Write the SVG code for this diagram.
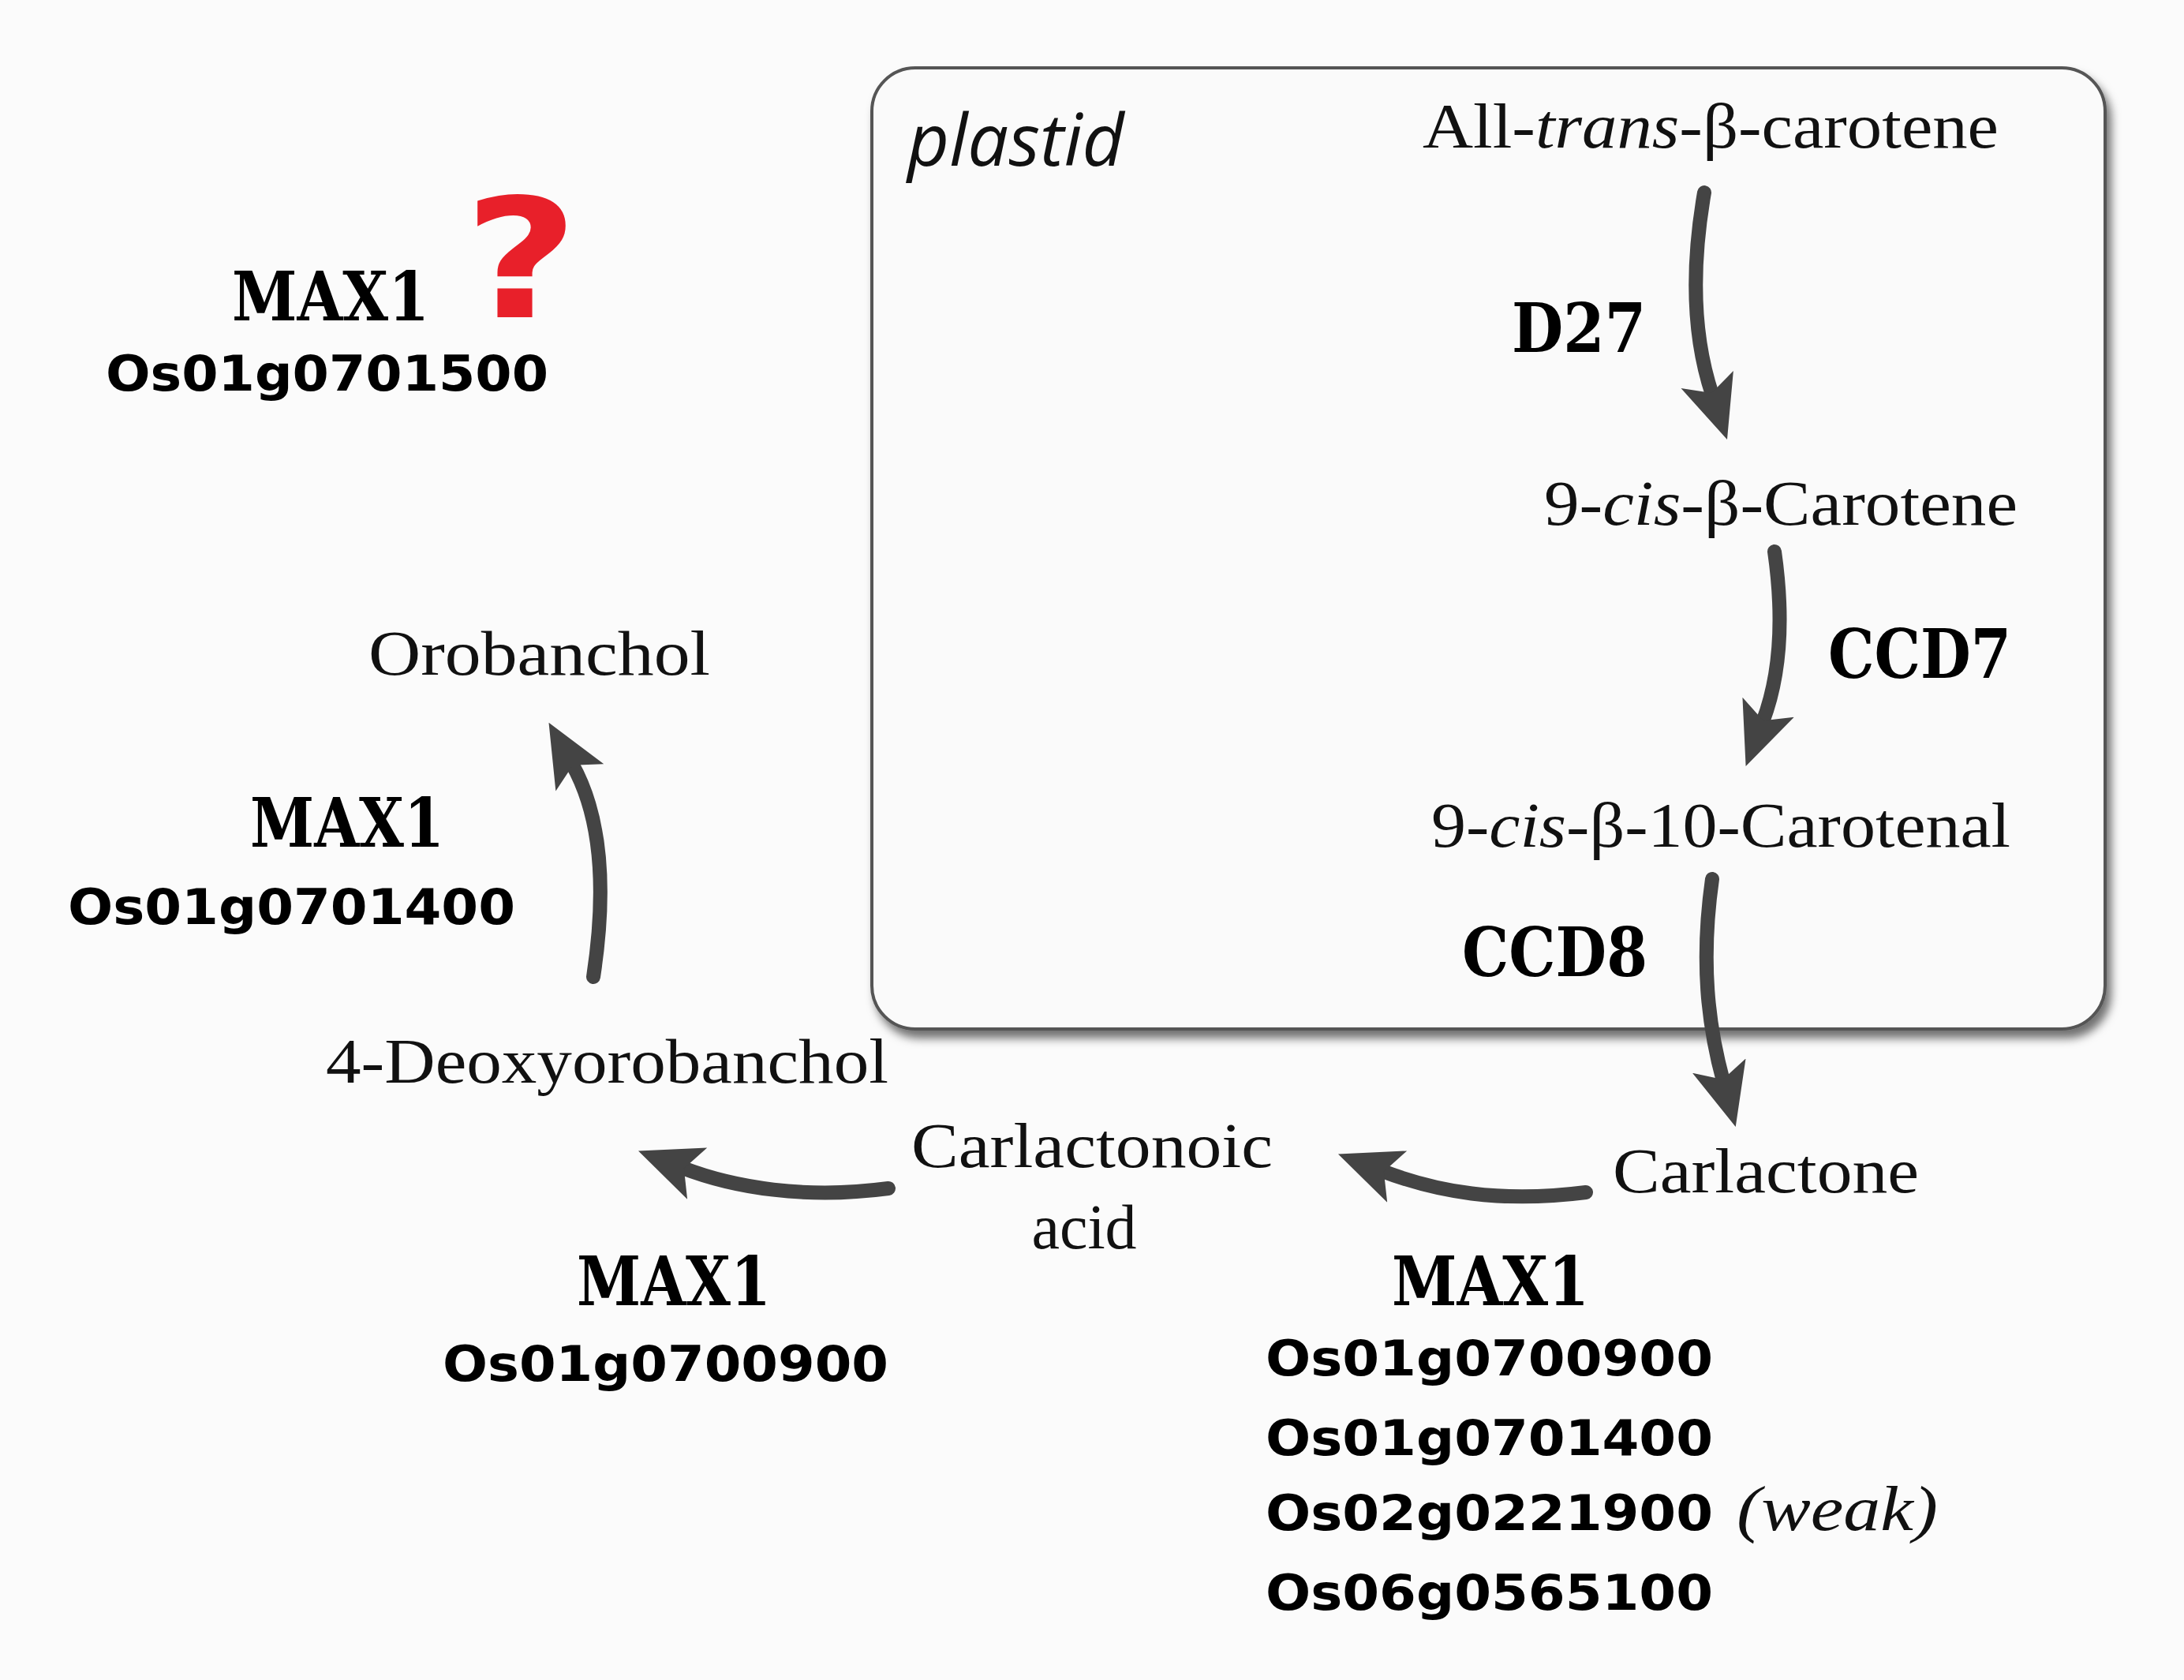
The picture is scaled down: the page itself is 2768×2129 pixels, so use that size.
<svg xmlns="http://www.w3.org/2000/svg" width="2768" height="2129" viewBox="0 0 2768 2129">
<defs>
<marker id="ah" markerUnits="userSpaceOnUse" markerWidth="80" markerHeight="80" viewBox="0 0 80 80" refX="20" refY="40" orient="auto">
<path d="M0,5 L80,40 L0,75 L18,40 Z" fill="#444"/>
</marker>
<filter id="sh" x="-5%" y="-5%" width="110%" height="115%"><feDropShadow dx="6" dy="10" stdDeviation="6" flood-color="#000" flood-opacity="0.55"/></filter>
</defs>
<style>
.serif{font-family:"Liberation Serif","DejaVu Serif",serif;font-size:80px;fill:#111}
.enz{font-family:"DejaVu Serif",serif;font-weight:900;font-size:86px;fill:#000}
.gene{font-family:"DejaVu Sans",sans-serif;font-weight:bold;font-size:62px;fill:#000}
.arr{fill:none;stroke:#444;stroke-width:18;stroke-linecap:round;marker-end:url(#ah)}
</style>
<rect width="2768" height="2129" fill="#fbfbfb"/>
<g id="plastid">
<rect x="1105" y="86" width="1563" height="1218" rx="55" fill="#fafafa" stroke="#555" stroke-width="4" filter="url(#sh)"/>
<text x="1150" y="210" font-family="Open Sans,sans-serif" font-style="italic" font-size="92" fill="#111">plastid</text>
</g>
<g id="n_allTrans"><text class="serif" x="1803" y="187" textLength="730" lengthAdjust="spacingAndGlyphs">All-<tspan font-style="italic">trans</tspan>-β-carotene</text></g>
<g id="n_9cis"><text class="serif" x="1957" y="665" textLength="600" lengthAdjust="spacingAndGlyphs">9-<tspan font-style="italic">cis</tspan>-β-Carotene</text></g>
<g id="n_carotenal"><text class="serif" x="1814" y="1073" textLength="734" lengthAdjust="spacingAndGlyphs">9-<tspan font-style="italic">cis</tspan>-β-10-Carotenal</text></g>
<g id="n_carlactone"><text class="serif" x="2044" y="1511" textLength="388" lengthAdjust="spacingAndGlyphs">Carlactone</text></g>
<g id="n_acid"><text class="serif" x="1155" y="1479" textLength="458" lengthAdjust="spacingAndGlyphs">Carlactonoic</text><text class="serif" x="1374" y="1582" text-anchor="middle">acid</text></g>
<g id="n_deoxy"><text class="serif" x="413" y="1372" textLength="713" lengthAdjust="spacingAndGlyphs">4-Deoxyorobanchol</text></g>
<g id="n_orobanchol"><text class="serif" x="467" y="855" textLength="433" lengthAdjust="spacingAndGlyphs">Orobanchol</text></g>
<g id="e_d27"><text class="enz" x="1916" y="446" textLength="170" lengthAdjust="spacingAndGlyphs">D27</text></g>
<g id="e_ccd7"><text class="enz" x="2317" y="859" textLength="232" lengthAdjust="spacingAndGlyphs">CCD7</text></g>
<g id="e_ccd8"><text class="enz" x="1853" y="1237" textLength="235" lengthAdjust="spacingAndGlyphs">CCD8</text></g>
<g id="e_max1_top">
<text class="enz" x="294" y="406" textLength="250" lengthAdjust="spacingAndGlyphs">MAX1</text>
<text x="588" y="402" font-family="DejaVu Sans,sans-serif" font-weight="900" font-size="210" fill="#e8202a" textLength="145" lengthAdjust="spacingAndGlyphs">?</text>
<text class="gene" x="134" y="495" textLength="561" lengthAdjust="spacingAndGlyphs">Os01g0701500</text>
</g>
<g id="e_max1_left">
<text class="enz" x="317" y="1073" textLength="246" lengthAdjust="spacingAndGlyphs">MAX1</text>
<text class="gene" x="86" y="1171" textLength="567" lengthAdjust="spacingAndGlyphs">Os01g0701400</text>
</g>
<g id="e_max1_mid">
<text class="enz" x="731" y="1654" textLength="246" lengthAdjust="spacingAndGlyphs">MAX1</text>
<text class="gene" x="561" y="1750" textLength="565" lengthAdjust="spacingAndGlyphs">Os01g0700900</text>
</g>
<g id="e_max1_right">
<text class="enz" x="1764" y="1654" textLength="250" lengthAdjust="spacingAndGlyphs">MAX1</text>
<text class="gene" x="1604" y="1743" textLength="567" lengthAdjust="spacingAndGlyphs">Os01g0700900</text>
<text class="gene" x="1604" y="1844" textLength="567" lengthAdjust="spacingAndGlyphs">Os01g0701400</text>
<text class="gene" x="1604" y="1939" textLength="567" lengthAdjust="spacingAndGlyphs">Os02g0221900</text>
<text class="gene" x="1604" y="2040" textLength="567" lengthAdjust="spacingAndGlyphs">Os06g0565100</text>
<text class="serif" x="2201" y="1939" font-style="italic" textLength="255" lengthAdjust="spacingAndGlyphs">(weak)</text>
</g>
<g id="connectors">
<path class="arr" d="M2160,244 C2140,360 2150,440 2170,500"/>
<path class="arr" d="M2249,699 C2262,790 2255,860 2234,915"/>
<path class="arr" d="M2170,1114 C2155,1220 2165,1300 2184,1370"/>
<path class="arr" d="M2010,1511 C1900,1525 1820,1510 1752,1484"/>
<path class="arr" d="M1126,1506 C1020,1520 930,1505 865,1480"/>
<path class="arr" d="M752,1238 C770,1120 760,1030 725,968"/>
</g>
</svg>
